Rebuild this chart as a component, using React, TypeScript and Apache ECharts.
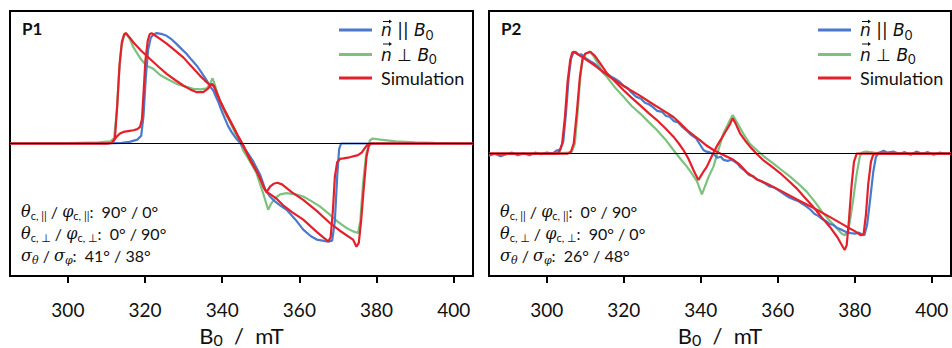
import React, { useEffect, useRef } from 'react';
import * as echarts from 'echarts';

const xTicks = [300, 320, 340, 360, 380, 400];
const NAME_PAR = 'n∥B0';
const NAME_PERP = 'n⊥B0';
const NAME_SIM = 'Simulation';
const panelTitles = ['P1', 'P2'];
const p1Params = ['90° / 0°', '0° / 90°', '41° / 38°'];
const p2Params = ['0° / 90°', '90° / 0°', '26° / 48°'];

// Panel P1 — experiment n || B0
const p1ParExp = [[285,0],[300,0],[310,0],[314,0.005],[316,0.015],[318,0.035],[319,0.07],[319.6,0.25],[320.2,0.6],[320.8,0.85],[321.5,0.96],[322.3,0.99],[323,1.0],[324.5,0.99],[325.6,0.975],[327,0.94],[328.2,0.9],[329.5,0.855],[330.8,0.81],[332,0.76],[333.4,0.705],[334.7,0.64],[336,0.57],[337,0.51],[337.7,0.48],[338.3,0.43],[339,0.375],[339.8,0.3],[340.7,0.225],[341.5,0.16],[342.4,0.105],[343.5,0.05],[344.8,0.0],[346.5,-0.08],[348,-0.16],[349.8,-0.28],[351.2,-0.42],[352.4,-0.48],[353.5,-0.52],[355,-0.56],[356.7,-0.6],[359,-0.69],[361,-0.78],[363,-0.84],[364.5,-0.87],[366,-0.88],[367.5,-0.89],[368.5,-0.88],[369.2,-0.7],[369.8,-0.3],[370.3,-0.05],[370.8,0],[385,0],[405,0]];
// Panel P1 — experiment n ⊥ B0
const p1PerpExp = [[285,0],[300,0.003],[308,0.01],[311,0.02],[312,0.05],[312.7,0.3],[313.3,0.65],[313.9,0.88],[314.5,0.97],[315.1,1.0],[316,0.95],[317,0.87],[317.8,0.825],[319,0.76],[320.4,0.705],[322,0.68],[323.9,0.62],[326,0.58],[328.2,0.54],[330.5,0.515],[332.5,0.495],[334.5,0.49],[336,0.5],[336.8,0.54],[337.5,0.59],[338.2,0.52],[339.4,0.375],[340.7,0.28],[342,0.195],[343.3,0.1],[344.6,0.015],[345.4,-0.06],[347,-0.15],[348.9,-0.27],[350.6,-0.45],[351.9,-0.6],[352.6,-0.55],[353.7,-0.495],[355,-0.46],[356.7,-0.45],[359,-0.46],[361,-0.48],[363,-0.52],[365.3,-0.57],[367.9,-0.645],[370,-0.71],[372,-0.76],[373.9,-0.796],[375.2,-0.81],[375.8,-0.7],[376.5,-0.36],[377.3,-0.1],[378.3,0.03],[379,0.045],[381,0.035],[385,0.02],[390,0.01],[395,0.005],[405,0]];
// Panel P1 — simulation n || B0
const p1ParSim = [[285,0],[310,0],[311.3,0.005],[312,0.03],[312.6,0.06],[313.5,0.09],[314.4,0.105],[316,0.115],[317,0.12],[318,0.13],[318.7,0.15],[319.2,0.22],[319.6,0.45],[320.1,0.75],[320.7,0.93],[321.2,0.99],[321.7,1.0],[322.5,0.98],[323.8,0.95],[325.6,0.905],[327.5,0.85],[329.9,0.78],[332,0.7],[334.2,0.615],[335.5,0.57],[336.8,0.53],[337.3,0.535],[337.8,0.52],[338.5,0.47],[339.4,0.39],[340.5,0.31],[341.5,0.24],[342.9,0.15],[344.2,0.06],[345.2,0.0],[346.3,-0.08],[347.5,-0.16],[348.9,-0.25],[350,-0.33],[350.8,-0.4],[351.5,-0.44],[352.5,-0.46],[354.1,-0.5],[355.8,-0.56],[358,-0.62],[361,-0.69],[364.5,-0.8],[366.2,-0.85],[367.5,-0.886],[368.1,-0.85],[368.7,-0.6],[369.2,-0.3],[369.8,-0.17],[370.5,-0.14],[371.4,-0.135],[373,-0.125],[375.2,-0.105],[376.2,-0.08],[377,-0.04],[377.8,-0.005],[378.5,0],[405,0]];
// Panel P1 — simulation n ⊥ B0
const p1PerpSim = [[285,0],[310,0],[311.5,0.005],[312.2,0.05],[312.8,0.35],[313.4,0.72],[314,0.92],[314.6,0.99],[315,1.0],[316,0.96],[317,0.915],[319,0.84],[321.3,0.765],[323.5,0.695],[325.6,0.63],[327.8,0.575],[329.9,0.525],[331.7,0.49],[333.4,0.465],[335.1,0.465],[336.4,0.5],[337.3,0.54],[337.9,0.52],[338.6,0.45],[339.4,0.39],[340.5,0.31],[341.7,0.23],[342.9,0.15],[344.2,0.06],[345.2,0.0],[346.3,-0.08],[347.5,-0.17],[348.9,-0.25],[350,-0.33],[350.8,-0.4],[351.5,-0.44],[352.4,-0.39],[353.3,-0.365],[354.3,-0.355],[355.5,-0.37],[358,-0.44],[361,-0.51],[364.5,-0.61],[367.9,-0.72],[370.5,-0.79],[373.9,-0.87],[374.8,-0.935],[375.4,-0.9],[376,-0.7],[376.7,-0.4],[377.4,-0.12],[378,-0.02],[378.6,0],[405,0]];

// Panel P2 — experiment n || B0
const p2ParExp = [[285,-0.02],[286.5,0.0],[288,-0.025],[289.5,-0.005],[291,0.01],[292.5,-0.015],[294,0.005],[295.5,-0.015],[297,0.01],[298.5,-0.005],[300,0.012],[301.5,0.0],[302.5,0.03],[303.5,0.04],[304.3,0.12],[305,0.4],[305.7,0.75],[306.3,0.93],[306.9,0.99],[307.5,1.0],[308.3,0.97],[309,0.975],[310.2,0.935],[311.2,0.91],[312.5,0.88],[313.5,0.84],[314.6,0.8],[315.5,0.79],[316.5,0.76],[317.5,0.74],[318.9,0.706],[320,0.665],[321,0.645],[322,0.6],[323.2,0.56],[324.5,0.54],[325.5,0.5],[326.5,0.485],[327.5,0.46],[328.7,0.42],[330,0.41],[331,0.37],[331.9,0.363],[333,0.32],[334,0.31],[335.3,0.26],[336.5,0.22],[337.5,0.185],[338.8,0.15],[339.8,0.09],[340.7,0.036],[341.5,0.02],[342.5,0.01],[343.3,0.0],[344.3,-0.04],[345.2,-0.03],[345.9,-0.06],[347,-0.07],[348,-0.06],[348.9,-0.08],[349.6,-0.1],[350.2,-0.13],[351.5,-0.17],[352.6,-0.21],[353.6,-0.22],[354.5,-0.25],[355.8,-0.27],[357,-0.3],[357.8,-0.32],[359,-0.33],[360.6,-0.37],[361.8,-0.4],[363,-0.43],[364.2,-0.45],[365.5,-0.47],[367.5,-0.52],[368.5,-0.55],[369.5,-0.59],[370.5,-0.61],[371.5,-0.64],[372.5,-0.66],[373.5,-0.69],[374.5,-0.7],[375.5,-0.73],[376.8,-0.75],[377.9,-0.77],[379,-0.78],[380,-0.785],[381.1,-0.775],[381.8,-0.79],[382.5,-0.8],[383.2,-0.7],[384,-0.45],[384.8,-0.18],[385.5,-0.03],[386.3,0.01],[387.5,0.03],[388.5,0.01],[390,0.02],[391.5,0.0],[393,0.015],[394.5,-0.01],[396,0.02],[397.5,0.0],[399,0.015],[400.5,-0.01],[402,0.01],[403.5,0.0],[405,0.005]];
// Panel P2 — experiment n ⊥ B0
const p2PerpExp = [[285,0],[295,0],[303,0.003],[305.7,0.01],[306.5,0.02],[307.3,0.1],[308,0.4],[308.7,0.75],[309.3,0.92],[310,0.98],[311.3,1.0],[312.3,0.95],[313.5,0.87],[314.5,0.8],[315.6,0.755],[317.5,0.66],[319.9,0.56],[322,0.47],[324.2,0.396],[326.5,0.31],[328.6,0.232],[330.8,0.14],[332.9,0.036],[334.7,-0.05],[336.4,-0.127],[337.8,-0.2],[339,-0.27],[339.8,-0.35],[340.3,-0.4],[341,-0.33],[342,-0.23],[343.3,-0.127],[344.6,0.04],[345.9,0.2],[347.2,0.3],[348.3,0.38],[349.5,0.3],[351,0.2],[352.7,0.1],[354.5,0.036],[356.5,-0.03],[358.8,-0.094],[361,-0.16],[363.2,-0.225],[365.5,-0.3],[367.5,-0.372],[369.8,-0.48],[371.8,-0.585],[373.6,-0.66],[375.3,-0.73],[376.5,-0.78],[377.4,-0.8],[378.3,-0.76],[379,-0.6],[379.6,-0.45],[380.5,-0.2],[381.3,-0.03],[381.8,0.01],[383,0.02],[385,0.01],[390,0],[405,0]];
// Panel P2 — simulation n || B0
const p2ParSim = [[285,0],[302.5,0],[303.3,0.02],[304,0.1],[304.7,0.35],[305.4,0.7],[306.1,0.92],[306.6,0.99],[307,1.0],[308.5,0.965],[310.5,0.915],[312.5,0.865],[315.6,0.775],[318.5,0.7],[321,0.64],[324.2,0.57],[327,0.5],[330,0.43],[332.9,0.36],[334.6,0.3],[336.5,0.23],[338.5,0.17],[339.8,0.134],[341.5,0.08],[343.3,0.036],[345.2,0.0],[348.5,-0.06],[350.2,-0.11],[351.9,-0.18],[354.5,-0.25],[357.5,-0.3],[360.6,-0.36],[365,-0.45],[369.2,-0.53],[373.5,-0.62],[377.9,-0.716],[380,-0.76],[381.6,-0.8],[382.3,-0.79],[382.9,-0.6],[383.5,-0.3],[384.2,-0.08],[384.8,-0.01],[385.5,0],[405,0]];
// Panel P2 — simulation n ⊥ B0
const p2PerpSim = [[285,0],[305.5,0],[306.3,0.02],[307,0.1],[307.8,0.4],[308.6,0.75],[309.3,0.93],[310,0.98],[311.3,1.0],[312.5,0.96],[313.8,0.89],[315.6,0.79],[317.8,0.705],[319.9,0.625],[322,0.55],[324.2,0.477],[326.4,0.4],[328.6,0.33],[330.8,0.25],[332.9,0.167],[334.3,0.1],[335.5,0.036],[336.8,-0.05],[338.1,-0.16],[339,-0.23],[339.4,-0.258],[340,-0.22],[340.8,-0.17],[341.6,-0.127],[342.8,-0.03],[344.1,0.069],[345.4,0.15],[346.7,0.232],[347.6,0.29],[348.3,0.347],[349,0.3],[350.2,0.2],[351.5,0.13],[352.8,0.069],[354.5,0.0],[356.2,-0.062],[358.4,-0.125],[360.6,-0.19],[362.8,-0.265],[364.9,-0.34],[367,-0.43],[369.2,-0.52],[371.3,-0.62],[373.5,-0.716],[375.5,-0.82],[377,-0.92],[377.4,-0.944],[377.9,-0.9],[378.5,-0.65],[379.2,-0.3],[379.8,-0.08],[380.5,0],[405,0]];

const yRanges = [[-1.2, 1.2], [-1.2, 1.4]];

const BLUE = '#4a7acb';
const GREEN = '#7cc27e';
const RED = '#e3212b';
const SANS = 'Lato, "DejaVu Sans", sans-serif';

export default function App() {
  const ref = useRef<HTMLDivElement>(null);
  useEffect(() => {
    if (!ref.current) return;
    const chart = echarts.init(ref.current, undefined, { renderer: 'svg' });

    const grids = [
      { left: 10, top: 11, width: 463, height: 265 },
      { left: 489, top: 11, width: 462, height: 265 },
    ];
    const legendLefts = [339, 818];
    const ICON_W = 33;
    const TEXT_PAD = 4;
    const LEGEND_TOP = 19;
    const ITEM_STEP = 22.5;

    const panels = [
      { par: p1ParExp, perp: p1PerpExp, parSim: p1ParSim, perpSim: p1PerpSim, params: p1Params },
      { par: p2ParExp, perp: p2PerpExp, parSim: p2ParSim, perpSim: p2PerpSim, params: p2Params },
    ];

    const nameRich = {
      b: { fontFamily: SANS, fontSize: 22, color: '#111', lineHeight: 24 },
      s: { fontFamily: SANS, fontSize: 16, color: '#111', lineHeight: 17, padding: [8, 0, 0, 0] },
      r: { fontFamily: SANS, fontSize: 22, color: '#111', lineHeight: 24 },
    };

    const legendRich = {
      n: { fontFamily: '"DejaVu Sans"', fontStyle: 'italic', fontSize: 17, color: '#111', lineHeight: 20 },
      r: { fontFamily: '"DejaVu Sans"', fontSize: 17, color: '#111', lineHeight: 20 },
      i: { fontFamily: '"DejaVu Sans"', fontStyle: 'italic', fontSize: 17, color: '#111', lineHeight: 20 },
      s: { fontFamily: SANS, fontSize: 13, color: '#111', lineHeight: 20, padding: [9, 0, 0, 0] },
      t: { fontFamily: SANS, fontSize: 18, color: '#111', lineHeight: 20 },
    };

    const legendFormatter = (name: string) => {
      if (name === NAME_PAR) return '{n|n}{r| || }{i|B}{s|0}';
      if (name === NAME_PERP) return '{n|n}{r| \u22A5 }{i|B}{s|0}';
      return '{t|' + name + '}';
    };

    const series: any[] = [];
    panels.forEach((p, k) => {
      const base = { type: 'line', xAxisIndex: k, yAxisIndex: k, symbol: 'none', showSymbol: false, silent: true };
      series.push({
        ...base, name: NAME_PERP, data: p.perp, z: 2,
        lineStyle: { color: GREEN, width: 2.2 }, itemStyle: { color: GREEN },
        markLine: {
          silent: true, symbol: 'none', label: { show: false },
          lineStyle: { color: '#000', width: 1, type: 'solid' },
          data: [{ yAxis: 0 }],
        },
      });
      series.push({ ...base, name: NAME_PAR, data: p.par, z: 3, lineStyle: { color: BLUE, width: 2.2 }, itemStyle: { color: BLUE } });
      series.push({ ...base, name: NAME_SIM, data: p.parSim, z: 4, lineStyle: { color: RED, width: 2.2 }, itemStyle: { color: RED } });
      series.push({ ...base, name: NAME_SIM, data: p.perpSim, z: 4, lineStyle: { color: RED, width: 2.2 }, itemStyle: { color: RED } });
    });

    const annRich = {
      g: { fontFamily: '"DejaVu Serif"', fontStyle: 'italic', fontSize: 16, fill: '#111' },
      gs: { fontFamily: '"DejaVu Serif"', fontStyle: 'italic', fontSize: 11, fill: '#111', verticalAlign: 'bottom', lineHeight: 13 },
      s: { fontFamily: SANS, fontSize: 11, fill: '#111', verticalAlign: 'bottom', lineHeight: 13 },
      t: { fontFamily: SANS, fontSize: 16, fill: '#111' },
    };

    const graphics: any[] = [];
    panels.forEach((p, k) => {
      const gx = grids[k].left;
      graphics.push({
        type: 'text', left: gx + 12, top: 20,
        style: { text: panelTitles[k], fontFamily: SANS, fontWeight: 'bold', fontSize: 17, fill: '#111' },
      });
      const lines = [
        '{g|θ}{s|c, ||}{t| / }{g|φ}{s|c, ||}{t|:  ' + p.params[0] + '}',
        '{g|θ}{s|c, ⊥}{t| / }{g|φ}{s|c, ⊥}{t|:  ' + p.params[1] + '}',
        '{g|σ}{gs|θ}{t| / }{g|σ}{gs|φ}{t|:  ' + p.params[2] + '}',
      ];
      lines.forEach((ln, i) => {
        graphics.push({
          type: 'text', x: gx + 11, y: 211 + i * 22.3,
          style: { text: ln, rich: annRich, verticalAlign: 'middle', lineHeight: 20 },
        });
      });
      // vector arrows (drawn as shapes) over the italic n in the two legend entries
      const ax = legendLefts[k] + ICON_W + 5 + TEXT_PAD + 6;
      [0, 1].forEach((j) => {
        const ay = LEGEND_TOP + 10 + j * ITEM_STEP - 7.5;
        graphics.push({
          type: 'line', silent: true,
          shape: { x1: ax - 4, y1: ay, x2: ax + 3, y2: ay },
          style: { stroke: '#111', lineWidth: 1 },
        });
        graphics.push({
          type: 'polygon', silent: true,
          shape: { points: [[ax + 5, ay], [ax + 2, ay - 2], [ax + 2, ay + 2]] },
          style: { fill: '#111' },
        });
      });
    });

    chart.setOption({
      animation: false,
      backgroundColor: '#fff',
      grid: grids.map((g) => ({ ...g, show: true, borderColor: '#000', borderWidth: 2, backgroundColor: 'transparent', containLabel: false, outerBoundsMode: 'none' })),
      xAxis: grids.map((_, k) => ({
        type: 'value', gridIndex: k, min: 285, max: 405,
        axisLine: { show: true, onZero: false, lineStyle: { color: '#000', width: 2 } },
        axisTick: { show: true, customValues: xTicks, length: 7, inside: false, lineStyle: { color: '#000', width: 2 } },
        axisLabel: { customValues: xTicks, fontSize: 19, color: '#111', margin: 24, fontFamily: SANS },
        splitLine: { show: false },
        name: '{b|B}{s|0}{r|  /  mT}',
        nameLocation: 'middle', nameGap: 37,
        nameTextStyle: { rich: nameRich },
      })),
      yAxis: grids.map((_, k) => ({
        type: 'value', gridIndex: k, min: yRanges[k][0], max: yRanges[k][1], show: false,
        splitLine: { show: false },
      })),
      legend: grids.map((g, k) => ({
        data: [NAME_PAR, NAME_PERP, NAME_SIM],
        orient: 'vertical', left: legendLefts[k], top: LEGEND_TOP,
        padding: 0,
        icon: 'rect',
        itemWidth: ICON_W, itemHeight: 3, itemGap: ITEM_STEP - 20,
        selectedMode: false,
        formatter: legendFormatter,
        textStyle: { fontSize: 18, lineHeight: 20, padding: [0, 0, 0, TEXT_PAD], rich: legendRich },
      })),
      series,
      graphic: graphics,
    });

    return () => chart.dispose();
  }, []);

  return <div ref={ref} style={{ position: 'fixed', left: 0, top: 0, width: 952, height: 348, background: '#fff' }} />;
}
